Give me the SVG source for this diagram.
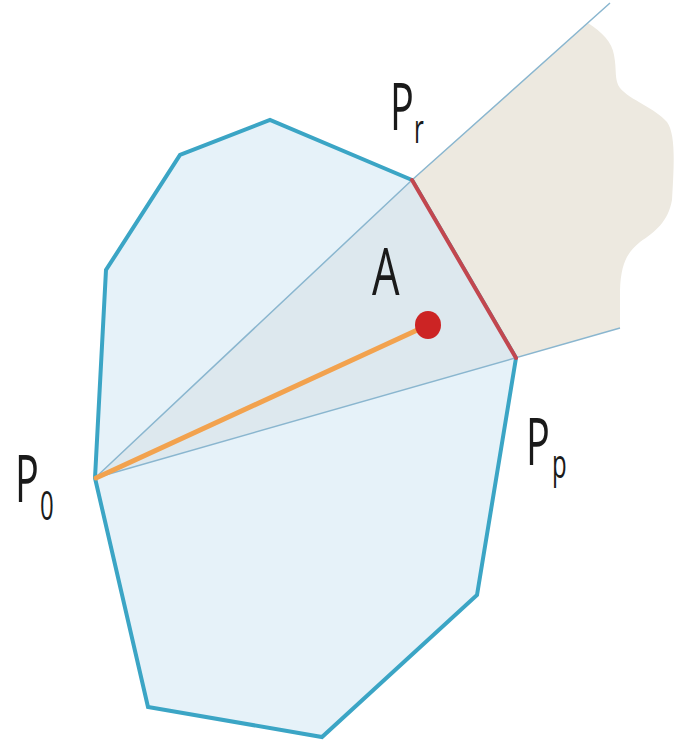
<svg xmlns="http://www.w3.org/2000/svg" width="675" height="744" viewBox="0 0 675 744">
  <style>
    .lbl { font-family: "Open Sans", "Liberation Sans", sans-serif; fill: #1a1a1a; }
    .big { font-size: 66px; }
    .sub { font-size: 40px; }
    .ray { stroke: #8ab6cf; stroke-width: 1.5; fill: none; }
  </style>
  <rect width="675" height="744" fill="#ffffff"/>
  <g id="beige-region">
    <path d="M412,180 L588,23 C602,32 612,42 614,55 C617,70 614,80 620,88 C630,100 655,108 667,122 C676,135 674,165 672,200 C668,222 655,232 640,242 C628,252 621,262 620,290 L620,328 L516,358 Z" fill="#ede9e0"/>
  </g>
  <g id="polygon">
    <polygon points="95,478 106,270 180,155 270,120 412,180 516,358 477,595 322,737 148,707" fill="#e6f2f9" stroke="#3ba5c5" stroke-width="4" stroke-linejoin="miter"/>
  </g>
  <g id="wedge">
    <polygon points="95,478 412,180 516,358" fill="#dde8ee"/>
  </g>
  <g id="connectors">
    <polyline class="ray" points="95,478 412,180 610,3"/>
    <line class="ray" x1="95" y1="478" x2="620" y2="328"/>
    <line x1="412" y1="180" x2="516" y2="358" stroke="#c2474f" stroke-width="4" stroke-linecap="round"/>
    <line x1="96" y1="478" x2="426" y2="326" stroke="#f2a24e" stroke-width="5" stroke-linecap="round"/>
  </g>
  <g id="point-A">
    <ellipse cx="428" cy="325" rx="13" ry="14" fill="#cc2424"/>
  </g>
  <g id="label-P0">
    <text class="lbl big" transform="translate(15,502) scale(0.6,1)">P</text>
    <text class="lbl sub" transform="translate(40,520) scale(0.6,1)">0</text>
  </g>
  <g id="label-Pr">
    <text class="lbl big" transform="translate(390,130) scale(0.6,1)">P</text>
    <text class="lbl sub" transform="translate(414,143) scale(0.6,1)">r</text>
  </g>
  <g id="label-Pp">
    <text class="lbl big" transform="translate(526,465) scale(0.6,1)">P</text>
    <text class="lbl sub" transform="translate(552,478) scale(0.6,1)">p</text>
  </g>
  <g id="label-A">
    <text class="lbl big" transform="translate(372,295) scale(0.66,1)">A</text>
  </g>
</svg>
